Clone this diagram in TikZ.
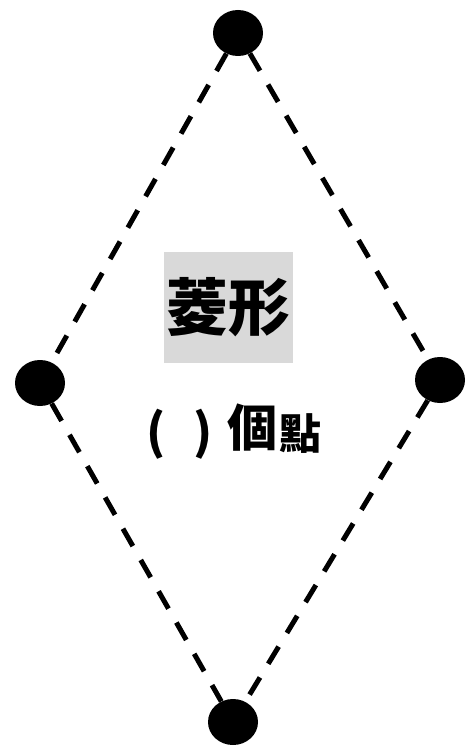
\documentclass[tikz,border=0pt]{standalone}
\usepackage{fontspec}
\usetikzlibrary{shapes.geometric}
\newfontfamily\cjk{Noto Sans CJK TC}
\begin{document}
\begin{tikzpicture}[x=1pt,y=-1pt,
  dot/.style={ellipse,fill=black,minimum width=50pt,minimum height=46pt,inner sep=0pt},
  edge/.style={line width=5pt,dash pattern=on 20pt off 16pt},
  txt/.style={inner sep=0pt,anchor=center}]
\useasboundingbox (0,0) rectangle (470,749);
\node[dot] (t) at (238,33) {};
\node[dot] (l) at (40,383) {};
\node[dot] (r) at (440,380) {};
\node[dot] (b) at (233,722) {};
\draw[edge] (t) -- (l);
\draw[edge] (t) -- (r);
\draw[edge] (l) -- (b);
\draw[edge] (r) -- (b);
\node[fill=black!15,minimum width=129pt,minimum height=111pt,inner sep=0pt,font=\cjk\bfseries\fontsize{62}{62}\selectfont] (title) at (228.5,307.5) {菱形};
\node[txt,font=\cjk\bfseries\fontsize{48}{48}\selectfont] (lp) at (156,434) {(};
\node[txt,font=\cjk\bfseries\fontsize{48}{48}\selectfont] (rp) at (203,434) {)};
\node[txt,font=\cjk\bfseries\fontsize{50}{50}\selectfont] (ge) at (252,428) {個};
\node[txt,font=\cjk\bfseries\fontsize{42}{42}\selectfont] (dian) at (300,434) {點};
\end{tikzpicture}
\end{document}
